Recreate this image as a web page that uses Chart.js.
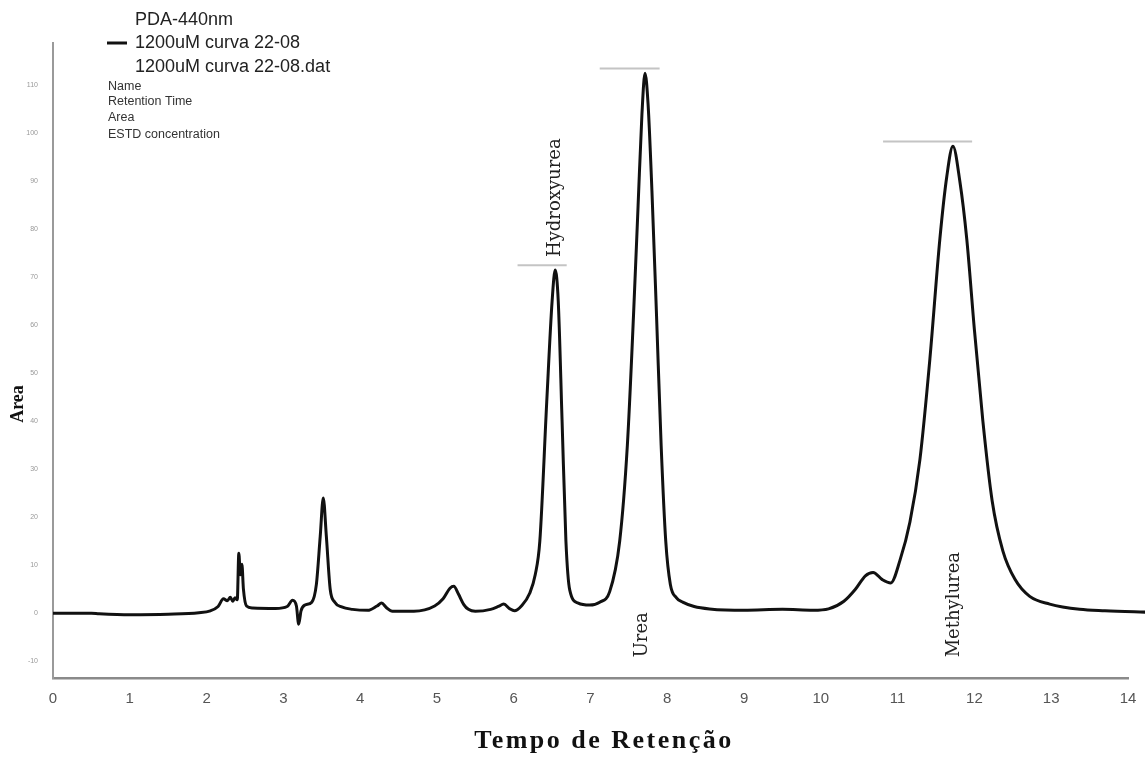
<!DOCTYPE html>
<html>
<head>
<meta charset="utf-8">
<script src="https://cdn.jsdelivr.net/npm/chart.js@4/dist/chart.umd.min.js"></script>
<style>
  html, body { margin: 0; padding: 0; background: #fff; }
  #wrap { width: 1145px; height: 760px; position: relative; }
</style>
</head>
<body>
<div id="wrap"><canvas id="c" width="1145" height="760"></canvas></div>
<script>
// ---- Data ----
const retentionTime = [
  0, 0.5, 0.6, 1.0, 1.5, 1.9, 2.05, 2.15, 2.22, 2.27, 2.31, 2.34, 2.37, 2.40, 2.42, 2.44, 2.46, 2.48, 2.52, 2.6,
  2.9, 3.05, 3.12, 3.17, 3.20, 3.23, 3.28, 3.37, 3.43, 3.48, 3.52, 3.56, 3.61, 3.67, 3.76, 3.9,
  4.1, 4.22, 4.28, 4.34, 4.42, 4.7, 4.97, 5.08, 5.17, 5.22, 5.28, 5.35, 5.41, 5.5,
  5.7, 5.8, 5.87, 5.95, 6.01, 6.1, 6.21, 6.28, 6.34, 6.43, 6.50, 6.54, 6.58, 6.63, 6.68, 6.73, 6.84, 6.99,
  7.12, 7.25, 7.38, 7.48, 7.56, 7.62, 7.67, 7.71, 7.75, 7.80, 7.86, 7.92, 7.98, 8.04, 8.12, 8.2, 8.35, 8.55,
  9.0, 9.5, 9.9, 10.1, 10.3, 10.45, 10.58, 10.68, 10.8, 10.91, 11.03, 11.16, 11.29, 11.42, 11.55, 11.64, 11.72,
  11.81, 11.9, 12.0, 12.11, 12.23, 12.37, 12.53, 12.72, 12.98, 13.37, 13.7, 14.27
];
const absorbance = [
  0, 0, -0.1, -0.3, -0.2, 0.1, 0.5, 1.4, 3.0, 2.6, 3.3, 2.5, 3.2, 2.8, 12.5, 8.0, 10.2, 5.0, 1.5, 1.1,
  1.0, 1.4, 2.7, 1.5, -2.3, 0.5, 1.7, 2.3, 6.0, 16.0, 24.0, 16.0, 5.0, 2.3, 1.3, 0.8,
  0.6, 1.5, 2.1, 1.2, 0.4, 0.4, 1.5, 3.0, 5.2, 5.6, 4.0, 1.8, 0.8, 0.4,
  0.8, 1.4, 1.9, 0.9, 0.5, 1.5, 4.2, 8.0, 15.0, 44.0, 65.0, 71.5, 65.0, 40.0, 15.0, 4.8, 2.1, 1.7,
  2.3, 4.5, 15.0, 35.0, 62.0, 85.0, 104.0, 112.5, 106.0, 88.0, 62.0, 35.0, 15.0, 6.0, 3.2, 2.3, 1.4, 0.9,
  0.6, 0.8, 0.6, 0.9, 2.5, 5.0, 7.8, 8.5, 7.0, 6.3, 11.0, 19.0, 32.0, 53.0, 78.0, 91.0, 97.3,
  90.0, 78.0, 59.0, 40.0, 23.5, 13.0, 7.0, 3.5, 1.9, 0.8, 0.5, 0.2
];

// Integration marks (baseline-to-peak bars drawn by the software)
const markStart = [6.05, 7.12, 10.81];
const markEnd   = [6.69, 7.90, 11.97];
const markLevel = [72.5, 113.5, 98.3];

// Peak names and their label anchors (data units; text runs upward from the anchor)
const peakNames   = ["Hydroxyurea", "Urea", "Methylurea"];
const peakLabelX  = [6.54, 7.68, 11.74];
const peakLabelY  = [74.2, -9.2, -9.2];

// Axis ticks
const xTickValues = [0,1,2,3,4,5,6,7,8,9,10,11,12,13,14];
const yTickValues = [-10,0,10,20,30,40,50,60,70,80,90,100,110];

// Header texts
const headerBig   = ["PDA-440nm", "1200uM curva 22-08", "1200uM curva 22-08.dat"];
const headerSmall = ["Name", "Retention Time", "Area", "ESTD concentration"];
const xTitle = "Tempo de Retenção";
const yTitle = "Area";

// ---- Build datasets ----
const tracePoints = retentionTime.map((t, i) => ({ x: t, y: absorbance[i] }));
const markDatasets = markStart.map((s, i) => ({
  data: [{ x: s, y: markLevel[i] }, { x: markEnd[i], y: markLevel[i] }],
  borderColor: '#c4c4c4', borderWidth: 2, pointRadius: 0, tension: 0, fill: false
}));

const textPlugin = {
  id: 'texts',
  afterDraw(chart) {
    const ctx = chart.ctx;
    const xs = chart.scales.x, ys = chart.scales.y;
    ctx.save();
    // header
    ctx.fillStyle = '#222';
    ctx.textBaseline = 'middle';
    ctx.textAlign = 'left';
    ctx.font = '18px "Liberation Sans", Arial, sans-serif';
    const bigY = [20, 43, 67];
    headerBig.forEach((t, i) => ctx.fillText(t, 135, bigY[i]));
    ctx.strokeStyle = '#111';
    ctx.lineWidth = 3;
    ctx.beginPath(); ctx.moveTo(107, 43); ctx.lineTo(127, 43); ctx.stroke();
    ctx.font = '12.5px "Liberation Sans", Arial, sans-serif';
    ctx.fillStyle = '#333';
    const smallY = [87, 102, 118, 135];
    headerSmall.forEach((t, i) => ctx.fillText(t, 108, smallY[i]));

    // peak labels
    ctx.fillStyle = '#222';
    ctx.font = '18px "DejaVu Serif", serif';
    ctx.textAlign = 'left';
    ctx.textBaseline = 'middle';
    peakNames.forEach((name, i) => {
      const px = xs.getPixelForValue(peakLabelX[i]);
      const py = ys.getPixelForValue(peakLabelY[i]);
      ctx.save();
      ctx.translate(px, py);
      ctx.rotate(-Math.PI / 2);
      ctx.fillText(name, 0, 0);
      ctx.restore();
    });

    // axis titles
    ctx.fillStyle = '#111';
    ctx.font = 'bold 26px "Liberation Serif", "Times New Roman", serif';
    ctx.textAlign = 'center';
    ctx.textBaseline = 'alphabetic';
    if ('letterSpacing' in ctx) ctx.letterSpacing = '2.5px';
    ctx.fillText(xTitle, 604, 748);
    if ('letterSpacing' in ctx) ctx.letterSpacing = '0px';

    ctx.save();
    ctx.font = 'bold 18px "Liberation Serif", "Times New Roman", serif';
    ctx.translate(18, 404);
    ctx.rotate(-Math.PI / 2);
    ctx.textBaseline = 'middle';
    ctx.fillText(yTitle, 0, 0);
    ctx.restore();
    ctx.restore();
  }
};

new Chart(document.getElementById('c'), {
  type: 'line',
  data: {
    datasets: [
      {
        data: tracePoints,
        borderColor: '#111',
        borderWidth: 3,
        pointRadius: 0,
        fill: false,
        cubicInterpolationMode: 'monotone',
        clip: { left: 0, top: 10, right: 20, bottom: 0 }
      },
      ...markDatasets
    ]
  },
  options: {
    responsive: false,
    animation: false,
    events: [],
    layout: { padding: { left: 0, top: 43, right: 17, bottom: 0 } },
    plugins: { legend: { display: false }, tooltip: { enabled: false } },
    scales: {
      x: {
        type: 'linear',
        min: 0, max: 14,
        afterFit(scale) { scale.height = 82; },
        afterBuildTicks(scale) { scale.ticks = xTickValues.map(v => ({ value: v })); },
        grid: { display: false },
        border: { display: true, color: '#8a8a8a', width: 2.5 },
        ticks: {
          color: '#555',
          font: { family: '"Liberation Sans", Arial, sans-serif', size: 15 },
          padding: 4,
          maxRotation: 0,
          autoSkip: false
        }
      },
      y: {
        type: 'linear',
        min: -13.5, max: 118.8,
        afterFit(scale) { scale.width = 53; },
        afterBuildTicks(scale) { scale.ticks = yTickValues.map(v => ({ value: v })); },
        grid: { display: false },
        border: { display: true, color: '#9a9a9a', width: 2 },
        ticks: {
          color: '#999',
          font: { family: '"Liberation Sans", Arial, sans-serif', size: 7 },
          padding: 7,
          autoSkip: false
        }
      }
    }
  },
  plugins: [textPlugin]
});
</script>
</body>
</html>
